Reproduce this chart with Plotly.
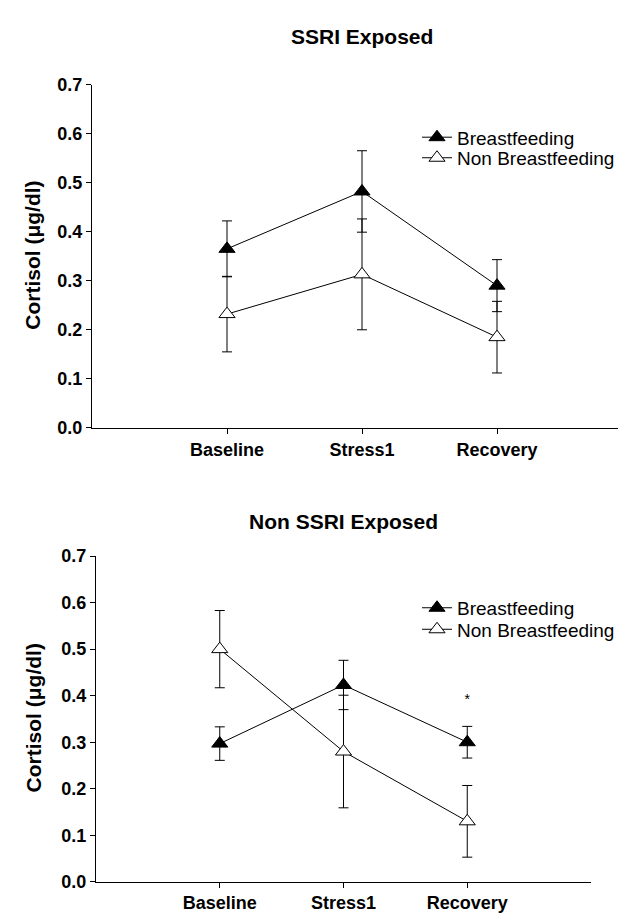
import plotly.graph_objects as go

categories = ["Baseline", "Stress1", "Recovery"]
x_pos = [1, 2, 3]

# SSRI Exposed
ssri_bf = [0.365, 0.482, 0.290]
ssri_bf_err = [0.057, 0.083, 0.053]
ssri_non = [0.232, 0.313, 0.185]
ssri_non_err = [0.077, 0.113, 0.073]

# Non SSRI Exposed
non_bf = [0.297, 0.423, 0.300]
non_bf_err = [0.036, 0.053, 0.034]
non_non = [0.500, 0.280, 0.130]
non_non_err = [0.083, 0.121, 0.077]

star_x = [3]
star_y = [0.39]

y_ticks = [0.0, 0.1, 0.2, 0.3, 0.4, 0.5, 0.6, 0.7]
y_labels = ["0.0", "0.1", "0.2", "0.3", "0.4", "0.5", "0.6", "0.7"]

FONT = "Liberation Sans, Arial, sans-serif"
W, H = 626, 921


def px_x(p):
    return p / W


def px_y(p):
    return 1 - p / H


fig = go.Figure()


def add_series(y, err, filled, name, xa, ya, legend):
    fig.add_trace(go.Scatter(
        x=x_pos, y=y, mode="lines+markers", name=name,
        xaxis=xa, yaxis=ya, legend=legend,
        line=dict(color="black", width=1),
        marker=dict(symbol="triangle-up", size=14,
                    color="black" if filled else "white",
                    line=dict(color="black", width=1)),
        error_y=dict(type="data", array=err, visible=True,
                     color="black", thickness=1, width=5),
    ))


add_series(ssri_bf, ssri_bf_err, True, "Breastfeeding", "x", "y", "legend")
add_series(ssri_non, ssri_non_err, False, "Non Breastfeeding", "x", "y", "legend2")
add_series(non_bf, non_bf_err, True, "Breastfeeding", "x2", "y2", "legend3")
add_series(non_non, non_non_err, False, "Non Breastfeeding", "x2", "y2", "legend4")

fig.add_trace(go.Scatter(x=star_x, y=star_y, mode="text", text=["*"],
                         textfont=dict(size=14, color="black", family=FONT),
                         xaxis="x2", yaxis="y2", showlegend=False))

axis_common = dict(showgrid=False, zeroline=False, showline=True,
                   linecolor="black", linewidth=1, ticks="outside",
                   ticklen=5, tickcolor="black", tickwidth=1)


def leg(x_px, y_px):
    return dict(x=px_x(x_px), y=px_y(y_px), xanchor="left", yanchor="middle",
                font=dict(size=19), bgcolor="rgba(0,0,0,0)",
                itemwidth=30, itemsizing="trace")


fig.update_layout(
    width=W, height=H,
    margin=dict(l=0, r=0, t=0, b=0),
    paper_bgcolor="white", plot_bgcolor="white",
    font=dict(family=FONT, color="black"),
    xaxis=dict(domain=[px_x(84), px_x(624)], range=[0, 4], anchor="y",
               tickvals=x_pos, ticktext=[f"<b>{c}</b>" for c in categories],
               tickfont=dict(size=18), **axis_common),
    yaxis=dict(domain=[px_y(419), px_y(68)], range=[0, 0.7], anchor="x",
               tickvals=y_ticks, ticktext=[f"<b>{t}</b>" for t in y_labels],
               tickfont=dict(size=18), **axis_common),
    xaxis2=dict(domain=[px_x(88), px_x(583)], range=[0, 4], anchor="y2",
                tickvals=x_pos, ticktext=[f"<b>{c}</b>" for c in categories],
                tickfont=dict(size=18), **axis_common),
    yaxis2=dict(domain=[px_y(883), px_y(550)], range=[0, 0.7], anchor="x2",
                tickvals=y_ticks, ticktext=[f"<b>{t}</b>" for t in y_labels],
                tickfont=dict(size=18), **axis_common),
    legend=leg(409, 122),
    legend2=leg(409, 143),
    legend3=leg(409, 603),
    legend4=leg(409, 625),
    annotations=[
        dict(text="<b>SSRI Exposed</b>", x=(px_x(84) + px_x(624)) / 2, y=px_y(19),
             xref="paper", yref="paper", showarrow=False, font=dict(size=21),
             xanchor="center", yanchor="middle"),
        dict(text="<b>Non SSRI Exposed</b>", x=(px_x(88) + px_x(583)) / 2, y=px_y(515),
             xref="paper", yref="paper", showarrow=False, font=dict(size=21),
             xanchor="center", yanchor="middle"),
        dict(text="<b>Cortisol (μg/dl)</b>", x=px_x(25), y=px_y(243),
             xref="paper", yref="paper", showarrow=False, font=dict(size=21),
             textangle=-90, xanchor="center", yanchor="middle"),
        dict(text="<b>Cortisol (μg/dl)</b>", x=px_x(25), y=px_y(716),
             xref="paper", yref="paper", showarrow=False, font=dict(size=21),
             textangle=-90, xanchor="center", yanchor="middle"),
    ],
)

fig.write_html("out.html")
